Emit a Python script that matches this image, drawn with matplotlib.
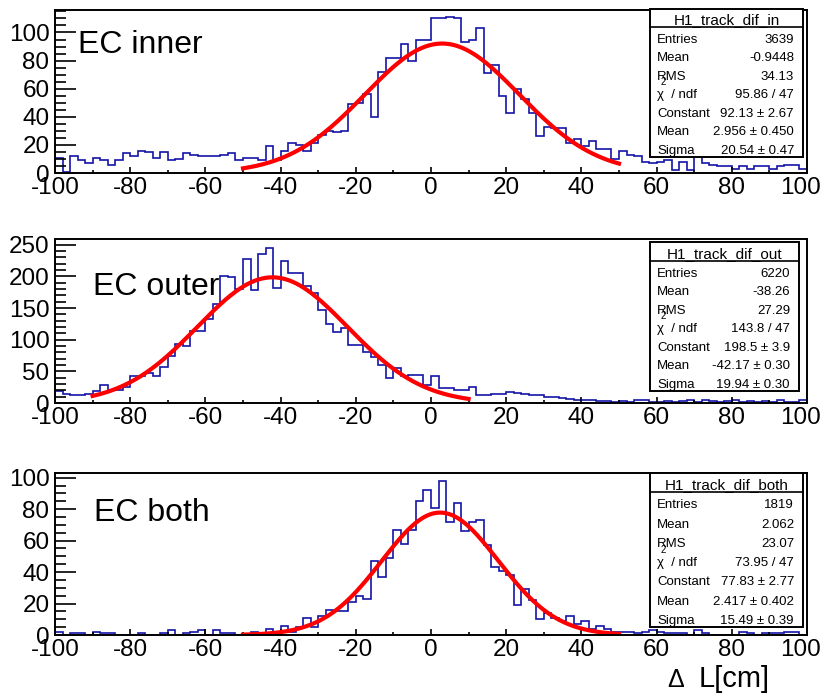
import numpy as np
import matplotlib
matplotlib.use("Agg")
import matplotlib.pyplot as plt
import matplotlib.transforms as mtransforms
from matplotlib.patches import Rectangle
from matplotlib.lines import Line2D
from matplotlib.ticker import MultipleLocator

plt.rcParams['font.family'] = ['Liberation Sans', 'DejaVu Sans']
plt.rcParams['axes.unicode_minus'] = False

# 100 bins of 2 cm from -100 to 100
edges = np.linspace(-100, 100, 101)

inner_counts = [11, 1, 12, 9, 7, 11, 9, 6, 9, 14,
                12, 16, 15, 11, 15, 9, 10, 14, 13, 12,
                12, 12, 13, 14, 9, 11, 11, 9, 19, 9,
                16, 21, 20, 16, 21, 27, 30, 29, 30, 49,
                50, 56, 40, 72, 82, 82, 92, 80, 95, 95,
                110, 110, 111, 110, 93, 95, 103, 71, 77, 55,
                43, 60, 53, 43, 26, 33, 32, 32, 21, 24,
                19, 23, 17, 17, 10, 16, 13, 12, 8, 7,
                8, 9, 2, 8, 2, 18, 7, 6, 5, 5,
                3, 5, 3, 5, 5, 3, 5, 6, 6, 3]

outer_counts = [19, 15, 13, 12, 15, 19, 28, 20, 20, 26,
                42, 42, 47, 42, 57, 75, 93, 90, 113, 114,
                133, 157, 201, 199, 180, 227, 179, 236, 245, 182,
                224, 206, 205, 185, 173, 147, 124, 112, 118, 92,
                92, 81, 73, 60, 39, 55, 42, 45, 44, 28,
                42, 23, 24, 20, 20, 26, 12, 13, 14, 15,
                18, 16, 14, 13, 12, 10, 9, 8, 7, 5,
                4, 4, 3, 3, 2, 3, 2, 4, 4, 2,
                2, 3, 2, 3, 4, 2, 5, 3, 2, 3,
                4, 2, 3, 2, 3, 1, 4, 2, 2, 4]

both_counts = [2, 0, 1, 1, 0, 2, 1, 1, 0, 0,
               0, 1, 0, 0, 1, 3, 0, 1, 2, 3,
               0, 3, 1, 1, 0, 0, 2, 1, 4, 2,
               6, 2, 5, 11, 5, 12, 16, 15, 15, 21,
               25, 23, 47, 37, 49, 67, 58, 67, 85, 92,
               81, 98, 72, 84, 66, 72, 73, 57, 43, 41,
               38, 19, 29, 22, 10, 14, 11, 9, 12, 7,
               9, 4, 6, 4, 2, 2, 2, 1, 2, 3,
               2, 1, 1, 1, 0, 3, 1, 0, 0, 0,
               0, 2, 1, 0, 1, 1, 1, 2, 2, 0]

panel_labels = ["EC inner", "EC outer", "EC both"]
hist_names = ["H1_track_dif_in", "H1_track_dif_out", "H1_track_dif_both"]
entries = ["3639", "6220", "1819"]
means = ["-0.9448", "-38.26", "2.062"]
rms = ["34.13", "27.29", "23.07"]
chi2_ndf = ["95.86 / 47", "143.8 / 47", "73.95 / 47"]
fit_const = [92.13, 198.5, 77.83]
fit_const_err = ["2.67", "3.9", "2.77"]
fit_mean = [2.956, -42.17, 2.417]
fit_mean_err = ["0.450", "0.30", "0.402"]
fit_sigma = [20.54, 19.94, 15.49]
fit_sigma_err = ["0.47", "0.30", "0.39"]
fit_range = [(-50, 50), (-90, 10), (-50, 50)]

counts = [inner_counts, outer_counts, both_counts]

W, H = 824, 693
fig = plt.figure(figsize=(W / 100, H / 100), dpi=100)

def fx(x):
    return x / W

def fy(y):
    return 1 - y / H

# layout in pixels
ax_left, ax_right = 55, 807
ax_top = [10, 239, 473]
ax_bot = [173, 403, 635]
y_max = [116, 259, 103]
y_major = [20, 50, 20]
y_minor = [5, 10, 5]
label_xy = [(78, 53), (93, 295), (94, 521)]
box_left = 650
box_geom = [(9, 27, 157, 803), (242, 261, 391, 799), (473, 492, 627, 803)]

blue = '#1414a8'
axes_list = []

for i in range(3):
    ax = fig.add_axes([fx(ax_left), fy(ax_bot[i]),
                       (ax_right - ax_left) / W, (ax_bot[i] - ax_top[i]) / H])
    axes_list.append(ax)
    ax.stairs(counts[i], edges, color=blue, lw=1.2, baseline=0)

    # gaussian fit drawn from the fit parameters
    xf = np.linspace(fit_range[i][0], fit_range[i][1], 300)
    yf = fit_const[i] * np.exp(-0.5 * ((xf - fit_mean[i]) / fit_sigma[i]) ** 2)
    ax.plot(xf, yf, color='#ff0000', lw=3)

    ax.set_xlim(-100, 100)
    ax.set_ylim(0, y_max[i])
    ax.xaxis.set_major_locator(MultipleLocator(20))
    ax.xaxis.set_minor_locator(MultipleLocator(10))
    ax.yaxis.set_major_locator(MultipleLocator(y_major[i]))
    ax.yaxis.set_minor_locator(MultipleLocator(y_minor[i]))
    ax.tick_params(axis='both', which='both', direction='in', top=False, right=False,
                   labelsize=17.5, width=1.2, color='black')
    ax.tick_params(axis='x', which='major', length=4.5, pad=3)
    ax.tick_params(axis='x', which='minor', length=2.5)
    ax.tick_params(axis='y', which='major', length=15, pad=4)
    ax.tick_params(axis='y', which='minor', length=8)
    for s in ax.spines.values():
        s.set_linewidth(1.4)

    lx, ly = label_xy[i]
    fig.text(fx(lx), fy(ly), panel_labels[i], fontsize=23,
             va='baseline', ha='left')

    # stats box
    btop, btitle, bbot, bright = box_geom[i]
    fig.add_artist(Rectangle((fx(box_left), fy(bbot)), (bright - box_left) / W,
                             (bbot - btop) / H, transform=fig.transFigure,
                             facecolor='white', edgecolor='black', lw=1.4, zorder=2))
    fig.add_artist(Line2D([fx(box_left), fx(bright)], [fy(btitle), fy(btitle)],
                          transform=fig.transFigure, color='black', lw=1.2, zorder=3))
    fig.text(fx((box_left + bright) / 2), fy(btitle - 3), hist_names[i], fontsize=11,
             ha='center', va='baseline', zorder=4)

    rows = [("Entries", entries[i]),
            ("Mean", means[i]),
            ("RMS", rms[i]),
            ("χ  / ndf", chi2_ndf[i]),
            ("Constant", f"{fit_const[i]} ± {fit_const_err[i]}"),
            ("Mean", f"{fit_mean[i]} ± {fit_mean_err[i]}"),
            ("Sigma", f"{fit_sigma[i]} ± {fit_sigma_err[i]}")]
    rh = (bbot - btitle) / 7
    for k, (name, val) in enumerate(rows):
        base = btitle + (k + 1) * rh - 3
        fig.text(fx(box_left + 7), fy(base), name, fontsize=9.5,
                 ha='left', va='baseline', zorder=4)
        fig.text(fx(bright - 9), fy(base), val, fontsize=9.5,
                 ha='right', va='baseline', zorder=4)
        if k == 3:
            fig.text(fx(box_left + 11), fy(base - 13), "2", fontsize=7,
                     ha='left', va='baseline', zorder=4)

# x axis title
fig.text(fx(667), fy(687), "Δ", fontsize=18, ha='left', va='baseline')
fig.text(fx(699), fy(687), "L[cm]", fontsize=21, ha='left', va='baseline')

# nudge the "100" x label of each panel so it stays inside the canvas
fig.canvas.draw()
shift = mtransforms.ScaledTranslation(-6 / 100, 0, fig.dpi_scale_trans)
for ax in axes_list:
    for tick in ax.xaxis.get_major_ticks():
        if abs(tick.get_loc() - 100) < 1e-6:
            tick.label1.set_transform(tick.label1.get_transform() + shift)

fig.savefig("out.png", dpi=100)
